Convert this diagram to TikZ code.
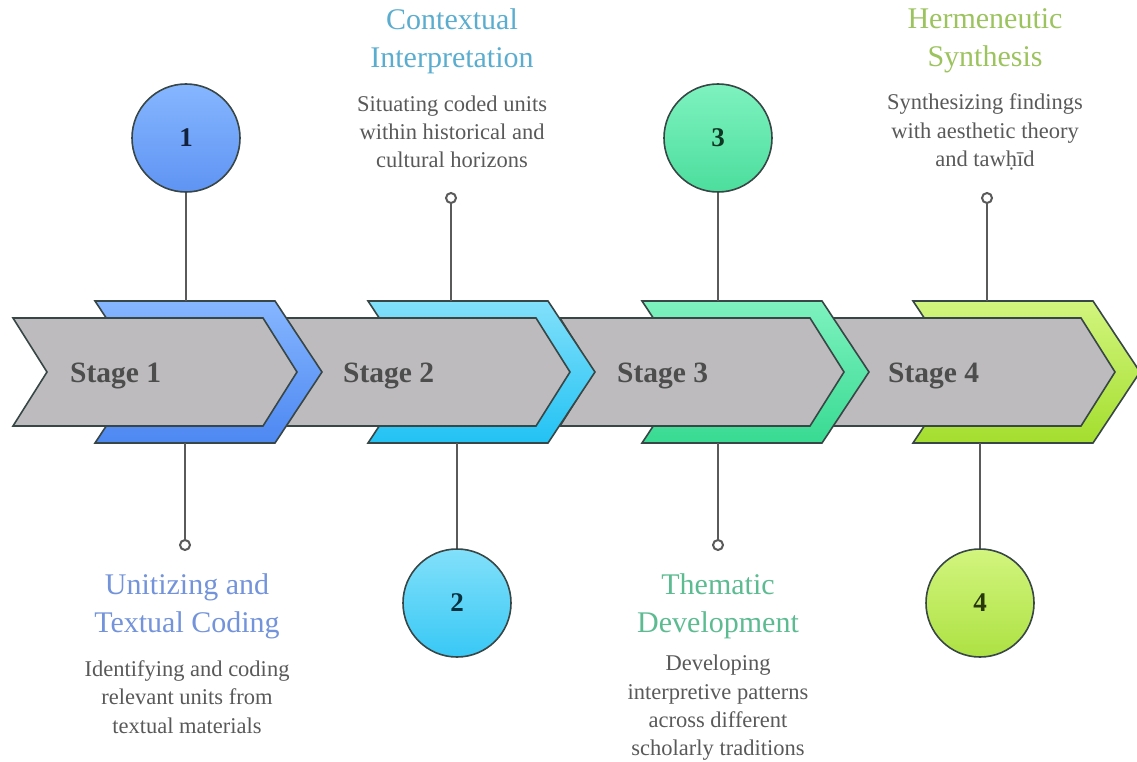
\documentclass[tikz,border=0pt]{standalone}
\usepackage{fontspec}
\setmainfont{Liberation Serif}

\definecolor{edgecol}{HTML}{394646}
\definecolor{bandgrey}{HTML}{BDBBBE}
\definecolor{linkcol}{HTML}{5A5A5A}
\definecolor{stagetxt}{HTML}{4D4D4D}
\definecolor{desctxt}{HTML}{595959}
\definecolor{hd1}{HTML}{7393DA}
\definecolor{hd2}{HTML}{5BADCF}
\definecolor{hd3}{HTML}{5DBB92}
\definecolor{hd4}{HTML}{9CC35E}
\definecolor{c1top}{HTML}{86B6FF}
\definecolor{c1bot}{HTML}{4D88F2}
\definecolor{c2top}{HTML}{82E0FA}
\definecolor{c2bot}{HTML}{22C2F4}
\definecolor{c3top}{HTML}{7EF2BF}
\definecolor{c3bot}{HTML}{38DA92}
\definecolor{c4top}{HTML}{D2F57E}
\definecolor{c4bot}{HTML}{A4DE2E}

\begin{document}
\begin{tikzpicture}[x=1pt,y=-1pt]
  \tikzstyle{every node}=[inner sep=0pt]
  \tikzstyle{band}=[draw=edgecol, line width=1.6pt, line join=miter]
  \tikzstyle{greyband}=[band, fill=bandgrey]
  \tikzstyle{num}=[circle, draw=edgecol, line width=1.6pt, minimum size=108pt,
    font=\fontsize{27}{27}\selectfont\bfseries]
  \tikzstyle{pin}=[circle, draw=linkcol, line width=2pt, fill=white, minimum size=10pt]
  \tikzstyle{link}=[draw=linkcol, line width=2.2pt]
  \tikzstyle{head}=[align=center, font=\fontsize{30}{38}\selectfont]
  \tikzstyle{desc}=[align=center, text=desctxt, font=\fontsize{22.5}{28.3}\selectfont]
  \tikzstyle{stage}=[anchor=west, text=stagetxt, font=\fontsize{29.5}{29.5}\selectfont\bfseries]

  \useasboundingbox (0,0) rectangle (1137,762);

  % bands, last stage first
  \path[band, top color=c4top, bottom color=c4bot]
    (913,301) -- (1093,301) -- (1140,372) -- (1093,443) -- (913,443) -- (960,372) -- cycle;
  \path[greyband] (831,318) -- (1081,318) -- (1115,372) -- (1081,426) -- (831,426) -- (865,372) -- cycle;
  \path[band, top color=c3top, bottom color=c3bot]
    (642,301) -- (822,301) -- (869,372) -- (822,443) -- (642,443) -- (689,372) -- cycle;
  \path[greyband] (560,318) -- (810,318) -- (844,372) -- (810,426) -- (560,426) -- (594,372) -- cycle;
  \path[band, top color=c2top, bottom color=c2bot]
    (368,301) -- (548,301) -- (595,372) -- (548,443) -- (368,443) -- (415,372) -- cycle;
  \path[greyband] (286,318) -- (536,318) -- (570,372) -- (536,426) -- (286,426) -- (320,372) -- cycle;
  \path[band, top color=c1top, bottom color=c1bot]
    (95,301) -- (275,301) -- (322,372) -- (275,443) -- (95,443) -- (142,372) -- cycle;
  \path[greyband] (13,318) -- (263,318) -- (297,372) -- (263,426) -- (13,426) -- (47,372) -- cycle;

  \node[stage] (s1) at (70,376) {Stage 1};
  \node[stage] (s2) at (343,376) {Stage 2};
  \node[stage] (s3) at (617,376) {Stage 3};
  \node[stage] (s4) at (888,376) {Stage 4};

  \coordinate (t1) at (186,301); \coordinate (b1) at (185,443);
  \coordinate (t2) at (451,301); \coordinate (b2) at (457,443);
  \coordinate (t3) at (718,301); \coordinate (b3) at (718,443);
  \coordinate (t4) at (987,301); \coordinate (b4) at (980,443);

  \node[num, top color=c1top, bottom color=c1bot!90!white, text=c1bot!25!black] (c1) at (186,138) {1};
  \node[num, top color=c2top, bottom color=c2bot!90!white, text=c2bot!25!black] (c2) at (457,603) {2};
  \node[num, top color=c3top, bottom color=c3bot!90!white, text=c3bot!25!black] (c3) at (718,138) {3};
  \node[num, top color=c4top, bottom color=c4bot!90!white, text=c4bot!25!black] (c4) at (980,603) {4};

  \node[pin] (p1) at (185,545) {};
  \node[pin] (p2) at (451,198) {};
  \node[pin] (p3) at (718,545) {};
  \node[pin] (p4) at (987,198) {};

  \path[link]
  (c1) edge (t1)
  (b1) edge (p1)
  (p2) edge (t2)
  (b2) edge (c2)
  (c3) edge (t3)
  (b3) edge (p3)
  (p4) edge (t4)
  (b4) edge (c4);

  \node[head, text=hd1] (h1) at (187,606) {Unitizing and\\Textual Coding};
  \node[desc] (d1) at (187,697) {Identifying and coding\\relevant units from\\textual materials};
  \node[head, text=hd2] (h2) at (452,41) {Contextual\\Interpretation};
  \node[desc] (d2) at (452,132) {Situating coded units\\within historical and\\cultural horizons};
  \node[head, text=hd3] (h3) at (718,606) {Thematic\\Development};
  \node[desc] (d3) at (718,708) {Developing\\interpretive patterns\\across different\\scholarly traditions};
  \node[head, text=hd4] (h4) at (985,41) {Hermeneutic\\Synthesis};
  \node[desc] (d4) at (985,132) {Synthesizing findings\\with aesthetic theory\\and tawḥīd};
\end{tikzpicture}
\end{document}
